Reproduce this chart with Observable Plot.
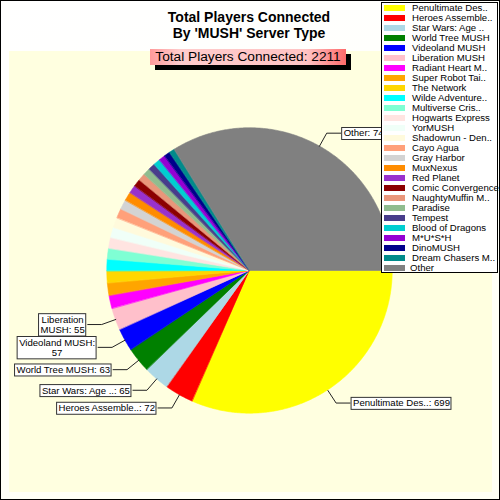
<!DOCTYPE html>
<html><head><meta charset="utf-8">
<script src="https://cdn.jsdelivr.net/npm/d3@7"></script>
<script src="https://cdn.jsdelivr.net/npm/@observablehq/plot@0.6"></script>
<style>
body{margin:0;font-family:"Liberation Sans",Arial,sans-serif;}
#wrap{position:relative;width:500px;height:500px;box-sizing:border-box;border:1px solid #000;background:linear-gradient(160deg,#ffffff 0%,#fffff4 100%);overflow:hidden;}
#panel{position:absolute;left:8px;top:50px;width:483px;height:441px;background:#ffffe0;}
#chart{position:absolute;left:-1px;top:-1px;}
#title{position:absolute;left:-2px;top:9px;width:500px;text-align:center;font-weight:bold;font-size:14px;line-height:15.5px;color:#000;}
#sub{position:absolute;left:149px;top:48px;width:196px;height:16px;line-height:16px;text-align:center;font-size:13.7px;color:#000;
 background:linear-gradient(to right,#ff9a9a 0%,#ffcccc 15%,#ffc4c4 80%,#ff6a6a 100%);box-shadow:5px 5px 0 #000;}
#legend{position:absolute;left:380px;top:1px;width:117px;height:271px;box-sizing:border-box;border:1px solid #000;background:#fff;}
.row{position:absolute;left:0;height:10px;width:115px;}
.sw{position:absolute;left:2px;top:2px;width:21px;height:6px;}
.lt{position:absolute;left:30px;top:-1px;font-size:9.6px;line-height:12px;white-space:nowrap;color:#000;}
</style>
</head><body>
<div id="wrap">
  <div id="panel"></div>
  <div id="chart"></div>
  <div id="title">Total Players Connected<br>By 'MUSH' Server Type</div>
  <div id="sub"></div>
  <div id="legend"></div>
</div>
<script>
const names = ["Penultimate Des..","Heroes Assemble..","Star Wars: Age ..","World Tree MUSH","Videoland MUSH","Liberation MUSH","Radiant Heart M..","Super Robot Tai..","The Network","Wilde Adventure..","Multiverse Cris..","Hogwarts Express","YorMUSH","Shadowrun - Den..","Cayo Agua","Gray Harbor","MuxNexus","Red Planet","Comic Convergence","NaughtyMuffin M..","Paradise","Tempest","Blood of Dragons","M*U*S*H","DinoMUSH","Dream Chasers M..","Other"];
const values = [699,72,65,63,57,55,33,31,30,29,27,27,26,25,24,24,22,20,19,18,18,17,17,16,15,14,748];
const colors = ["#ffff00","#ff0000","#add8e6","#008000","#0000ff","#ffc0cb","#ff00ff","#ffa500","#ffd700","#00ffff","#7fffd4","#ffe4e1","#f0fff8","#fffadc","#ffa07a","#d3d3d3","#ff8c00","#9932cc","#8b0000","#e9967a","#8fbc8f","#483d8b","#00ced1","#9400d3","#00008b","#008b8b","#808080"];
const labeledIdx = [0,1,2,3,4,5,26];
const labelFormat = {"Videoland MUSH": (n,v)=>n+":\n"+v, "Liberation MUSH": (n,v)=>"Liberation\nMUSH: "+v};
const subtitlePrefix = "Total Players Connected: ";

const total = d3.sum(values);
document.getElementById("sub").textContent = subtitlePrefix + total;

const pie = d3.pie().sort(null).value(d=>d).startAngle(0).endAngle(2*Math.PI)(values);

const slicePts = [];
pie.forEach((p,i)=>{
  const span = p.endAngle - p.startAngle;
  const n = Math.max(2, Math.ceil(span/(Math.PI/360)));
  for(let k=0;k<=n;k++){
    const a = p.startAngle + span*k/n;
    slicePts.push({name:names[i], x:Math.cos(a), y:Math.sin(a)});
  }
});

const R = 143, R2 = 158/R, H = 14/R;
const leaders = [], labels = [];
labeledIdx.forEach(i=>{
  const p = pie[i];
  const a = (p.startAngle+p.endAngle)/2;
  const c = Math.cos(a), s = Math.sin(a);
  const side = c >= 0 ? 1 : -1;
  const ex = R2*c, ey = R2*s, hx = ex + side*H;
  leaders.push({id:i,x:c,y:s},{id:i,x:ex,y:ey},{id:i,x:hx,y:ey});
  const f = labelFormat[names[i]];
  labels.push({x:hx,y:ey,side,text: f ? f(names[i],values[i]) : names[i]+": "+values[i]});
});

const chart = Plot.plot({
  width:500, height:500, margin:0,
  x:{domain:[-1,1], range:[250-R,250+R], axis:null},
  y:{domain:[-1,1], range:[271-R,271+R], axis:null},
  color:{domain:names, range:colors},
  style:{background:"transparent", fontFamily:"'Liberation Sans', Arial, sans-serif", overflow:"visible"},
  marks:[
    Plot.area(slicePts,{x1:()=>0,y1:()=>0,x2:"x",y2:"y",z:"name",fill:"name",stroke:"name",strokeWidth:0.6}),
    Plot.line(leaders,{x:"x",y:"y",z:"id",stroke:"#222",strokeWidth:1}),
    Plot.text(labels.filter(d=>d.side>0),{x:"x",y:"y",text:"text",textAnchor:"start",dx:3,fontSize:9.6,lineHeight:1.08,fill:"#000"}),
    Plot.text(labels.filter(d=>d.side<0),{x:"x",y:"y",text:"text",textAnchor:"end",dx:-3,fontSize:9.6,lineHeight:1.08,fill:"#000"})
  ]
});
document.getElementById("chart").appendChild(chart);

// boxes behind labels; multi-line labels centered within their box
const NS = "http://www.w3.org/2000/svg";
chart.querySelectorAll('g[aria-label="text"] text').forEach(t=>{
  let bb = t.getBBox();
  if (t.querySelectorAll("tspan").length > 1) {
    const anchor = t.closest("g").getAttribute("text-anchor") || "start";
    const w = bb.width;
    const shift = anchor === "end" ? -w/2 : (anchor === "start" ? w/2 : 0);
    t.setAttribute("text-anchor","middle");
    const tr0 = t.getAttribute("transform") || "";
    t.setAttribute("transform", tr0 + ` translate(${shift},0)`);
    bb = t.getBBox();
  }
  const r = document.createElementNS(NS,"rect");
  r.setAttribute("x", bb.x-2); r.setAttribute("y", bb.y);
  r.setAttribute("width", bb.width+3); r.setAttribute("height", bb.height+1);
  r.setAttribute("fill","#fff"); r.setAttribute("stroke","#333"); r.setAttribute("stroke-width","1");
  const tr = t.getAttribute("transform"); if(tr) r.setAttribute("transform", tr);
  t.parentNode.insertBefore(r, t);
});

// legend
const leg = document.getElementById("legend");
names.forEach((n,i)=>{
  const row = document.createElement("div");
  row.className = "row";
  row.style.top = (i*10) + "px";
  const sw = document.createElement("div"); sw.className="sw"; sw.style.background = colors[i];
  const lt = document.createElement("div"); lt.className="lt"; lt.textContent = n;
  if(n==="Other") lt.style.left = "28px";
  row.appendChild(sw); row.appendChild(lt); leg.appendChild(row);
});
</script>
</body></html>
